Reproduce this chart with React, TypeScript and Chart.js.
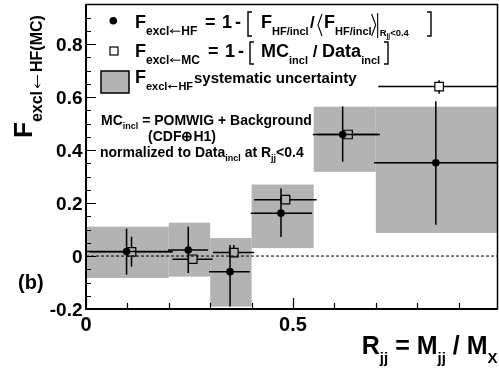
import React, { useEffect, useRef } from 'react';
import { Chart, registerables } from 'chart.js';

Chart.register(...registerables);

// ---- data ----
const binLo = [0, 0.2, 0.3, 0.4, 0.55, 0.7];
const binHi = [0.2, 0.3, 0.4, 0.55, 0.7, 1.0];
const sysLow = [-0.083, -0.078, -0.191, 0.03, 0.318, 0.087];
const sysHigh = [0.111, 0.126, 0.068, 0.27, 0.564, 0.564];

const hfX = [0.098, 0.247, 0.348, 0.471, 0.62, 0.845];
const hfY = [0.017, 0.023, -0.059, 0.162, 0.459, 0.352];
const hfYUp = [0.103, 0.111, 0.042, 0.255, 0.565, 0.585];
const hfYDown = [-0.071, -0.064, -0.191, 0.072, 0.356, 0.118];
const hfXLo = [0, 0.198, 0.297, 0.398, 0.548, 0.696];
const hfXHi = [0.205, 0.295, 0.396, 0.546, 0.705, 1.0];

const mcX = [0.11, 0.258, 0.357, 0.482, 0.633, 0.853];
const mcY = [0.016, -0.012, 0.013, 0.213, 0.459, 0.64];
const mcYUp = [0.073, 0.0, 0.042, 0.225, 0.47, 0.664];
const mcYDown = [-0.04, -0.025, 0.0, 0.2, 0.445, 0.613];
const mcXLo = [0.01, 0.209, 0.307, 0.406, 0.558, 0.706];
const mcXHi = [0.21, 0.306, 0.406, 0.557, 0.71, 1.0];

const xTickLabels = ['0', '0.5'];
const xTickValues = [0, 0.5];
const yTickLabels = ['-0.2', '0', '0.2', '0.4', '0.6', '0.8'];
const yTickValues = [-0.2, 0, 0.2, 0.4, 0.6, 0.8];

const X_MIN = 0, X_MAX = 0.994, Y_MIN = -0.2, Y_MAX = 0.95;

const GRAY = 'rgb(179,179,179)';
const FONT = '"Liberation Sans", Arial, Helvetica, sans-serif';

type Seg = { t?: string; s?: number; dy?: number; x?: number; w?: string; draw?: (ctx: CanvasRenderingContext2D, x: number) => number };

function rich(ctx: CanvasRenderingContext2D, x: number, y: number, segs: Seg[]) {
  let cx = x;
  for (const sg of segs) {
    if (sg.x !== undefined) cx = sg.x;
    if (sg.draw) { cx = sg.draw(ctx, cx); continue; }
    ctx.font = `${sg.w ?? 'bold'} ${sg.s ?? 18}px ${FONT}`;
    ctx.fillText(sg.t ?? '', cx, y + (sg.dy ?? 0));
    cx += ctx.measureText(sg.t ?? '').width;
  }
  return cx;
}

function bracket(top: number, bot: number, dir: number) {
  return (ctx: CanvasRenderingContext2D, x: number) => {
    ctx.save();
    ctx.lineWidth = 1.4;
    ctx.strokeStyle = '#000';
    ctx.beginPath();
    ctx.moveTo(x + 4 * dir, top);
    ctx.lineTo(x, top);
    ctx.lineTo(x, bot);
    ctx.lineTo(x + 4 * dir, bot);
    ctx.stroke();
    ctx.restore();
    return x + 6;
  };
}
function angle(top: number, bot: number, dir: number) {
  return (ctx: CanvasRenderingContext2D, x: number) => {
    ctx.save();
    ctx.lineWidth = 1.1;
    ctx.strokeStyle = '#000';
    ctx.beginPath();
    if (dir > 0) {
      ctx.moveTo(x + 4, top); ctx.lineTo(x, (top + bot) / 2); ctx.lineTo(x + 4, bot);
    } else {
      ctx.moveTo(x, top); ctx.lineTo(x + 4, (top + bot) / 2); ctx.lineTo(x, bot);
    }
    ctx.stroke();
    ctx.restore();
    return x + 6;
  };
}
function vbar(top: number, bot: number) {
  return (ctx: CanvasRenderingContext2D, x: number) => {
    ctx.save();
    ctx.lineWidth = 1.1;
    ctx.beginPath(); ctx.moveTo(x, top); ctx.lineTo(x, bot); ctx.stroke();
    ctx.restore();
    return x + 2;
  };
}
// thin left arrow (the "\u2190" sign)
function larrow(yc: number, len: number, gap: number, lw = 1) {
  return (ctx: CanvasRenderingContext2D, x: number) => {
    ctx.save();
    ctx.lineWidth = lw;
    ctx.strokeStyle = '#000';
    const x0 = x + gap, x1 = x + gap + len;
    const hd = Math.max(2.5, len * 0.28);
    ctx.beginPath();
    ctx.moveTo(x1, yc); ctx.lineTo(x0, yc);
    ctx.moveTo(x0 + hd, yc - hd * 0.7); ctx.lineTo(x0, yc); ctx.lineTo(x0 + hd, yc + hd * 0.7);
    ctx.stroke();
    ctx.restore();
    return x1 + gap;
  };
}

const rootPlugin = {
  id: 'rootStyle',
  beforeDatasetsDraw(chart: any) {
    const { ctx, chartArea: a, scales } = chart;
    const xs = scales.x, ys = scales.y;
    ctx.save();
    ctx.beginPath();
    ctx.rect(a.left, a.top, a.right - a.left, a.bottom - a.top);
    ctx.clip();
    // systematic boxes
    ctx.fillStyle = GRAY;
    for (let i = 0; i < binLo.length; i++) {
      const x0 = xs.getPixelForValue(binLo[i]);
      const x1 = xs.getPixelForValue(binHi[i]);
      const y0 = ys.getPixelForValue(sysHigh[i]);
      const y1 = ys.getPixelForValue(sysLow[i]);
      ctx.fillRect(x0, y0, x1 - x0, y1 - y0);
    }
    // dotted zero line
    const yz = ys.getPixelForValue(0);
    ctx.strokeStyle = '#000';
    ctx.lineWidth = 1;
    ctx.setLineDash([3, 2]);
    ctx.beginPath();
    ctx.moveTo(a.left, yz); ctx.lineTo(a.right, yz);
    ctx.stroke();
    ctx.setLineDash([]);
    // HF error bars
    ctx.lineWidth = 1.5;
    for (let i = 0; i < hfX.length; i++) {
      const px = xs.getPixelForValue(hfX[i]);
      const py = ys.getPixelForValue(hfY[i]);
      ctx.beginPath();
      ctx.moveTo(xs.getPixelForValue(hfXLo[i]), py);
      ctx.lineTo(xs.getPixelForValue(hfXHi[i]), py);
      ctx.moveTo(px, ys.getPixelForValue(hfYUp[i]));
      ctx.lineTo(px, ys.getPixelForValue(hfYDown[i]));
      ctx.stroke();
    }
    // MC error bars (stop at marker edge)
    const g = 4.2;
    for (let i = 0; i < mcX.length; i++) {
      const px = xs.getPixelForValue(mcX[i]);
      const py = ys.getPixelForValue(mcY[i]);
      const l = xs.getPixelForValue(mcXLo[i]);
      const r = xs.getPixelForValue(mcXHi[i]);
      const u = ys.getPixelForValue(mcYUp[i]);
      const d = ys.getPixelForValue(mcYDown[i]);
      ctx.beginPath();
      if (l < px - g) { ctx.moveTo(l, py); ctx.lineTo(px - g, py); }
      if (r > px + g) { ctx.moveTo(px + g, py); ctx.lineTo(r, py); }
      if (u < py - g) { ctx.moveTo(px, u); ctx.lineTo(px, py - g); }
      if (d > py + g) { ctx.moveTo(px, py + g); ctx.lineTo(px, d); }
      ctx.stroke();
    }
    ctx.restore();
  },
  afterDatasetsDraw(chart: any) {
    const { ctx, chartArea: a, scales } = chart;
    const xs = scales.x, ys = scales.y;
    ctx.save();
    ctx.strokeStyle = '#000';
    ctx.fillStyle = '#000';
    // frame
    ctx.lineWidth = 1.5;
    ctx.strokeRect(a.left, a.top, a.right - a.left, a.bottom - a.top);
    ctx.lineWidth = 2;
    ctx.beginPath();
    ctx.moveTo(a.left, a.top); ctx.lineTo(a.left, a.bottom); ctx.lineTo(a.right, a.bottom);
    ctx.stroke();
    // x ticks
    ctx.lineWidth = 1.2;
    ctx.beginPath();
    for (let k = 0; k <= 9; k++) {
      const v = k / 10;
      const px = Math.round(xs.getPixelForValue(v)) + 0.5;
      const len = k % 5 === 0 ? 11 : 6;
      ctx.moveTo(px, a.bottom); ctx.lineTo(px, a.bottom - len);
    }
    // y ticks
    for (let k = 0; k <= 23; k++) {
      const v = -0.2 + k * 0.05;
      if (v > Y_MAX + 1e-6) break;
      const py = Math.round(ys.getPixelForValue(v)) + 0.5;
      const len = k % 4 === 0 ? 10 : 5;
      ctx.moveTo(a.left, py); ctx.lineTo(a.left + len, py);
    }
    ctx.stroke();
    // tick labels
    ctx.font = `bold 20px ${FONT}`;
    ctx.textAlign = 'center';
    ctx.textBaseline = 'alphabetic';
    xTickValues.forEach((v, i) => {
      ctx.fillText(xTickLabels[i], xs.getPixelForValue(v), 330.5);
    });
    ctx.font = `bold 19px ${FONT}`;
    ctx.textAlign = 'right';
    yTickValues.forEach((v, i) => {
      ctx.fillText(yTickLabels[i], 82.5, ys.getPixelForValue(v) + 7);
    });
    ctx.textAlign = 'left';

    // y title (rotated)
    ctx.save();
    ctx.translate(32, 138);
    ctx.rotate(-Math.PI / 2);
    rich(ctx, 0, 0, [
      { t: 'F', s: 26 },
      { t: 'excl', s: 16, dy: 10 },
      { draw: larrow(5.5, 13, 3, 1) },
      { t: 'HF(MC)', s: 16, dy: 10 },
    ]);
    ctx.restore();

    // x title, right aligned
    const xt: Seg[] = [
      { t: 'R', s: 25 }, { t: 'jj', s: 15, dy: 9 }, { t: ' = M', s: 25 },
      { t: 'jj', s: 15, dy: 9 }, { t: ' / M', s: 25 }, { t: 'X', s: 15, dy: 9 },
    ];
    let tw = 0;
    for (const sg of xt) { ctx.font = `bold ${sg.s}px ${FONT}`; tw += ctx.measureText(sg.t!).width; }
    rich(ctx, 497.5 - tw, 354, xt);

    // (b)
    ctx.font = `bold 20px ${FONT}`;
    ctx.fillText('(b)', 18, 289);

    // legend row markers
    ctx.beginPath();
    ctx.arc(113.3, 20.7, 3.8, 0, Math.PI * 2);
    ctx.fill();
    ctx.lineWidth = 1.2;
    ctx.strokeRect(110, 47, 8, 8);
    ctx.fillStyle = GRAY;
    ctx.fillRect(101, 71, 28, 22);
    ctx.lineWidth = 1.5;
    ctx.strokeRect(101, 71, 28, 22);
    ctx.fillStyle = '#000';

    // legend row 1
    rich(ctx, 135, 28, [
      { t: 'F', s: 18 }, { t: 'excl', s: 12, dy: 7 }, { draw: larrow(31.2, 10, 1) }, { t: 'HF', s: 12, dy: 7 },
      { t: '=', s: 18, x: 205 }, { t: '1', s: 18, x: 222 }, { t: '-', s: 18, x: 235 },
      { draw: bracket(12, 36, 1), x: 248 },
      { t: 'F', s: 18, x: 261 }, { t: 'HF/incl', s: 11, dy: 7 },
      { t: '/', s: 17, x: 310 },
      { draw: angle(14, 36, 1), x: 318 },
      { t: 'F', s: 18, x: 324 }, { t: 'HF/incl', s: 11, dy: 7 },
      { draw: angle(14, 36, -1) },
      { draw: vbar(13, 38) },
      { t: 'R', s: 9.5, dy: 8 }, { t: 'jj', s: 6.5, dy: 10 }, { t: '<0.4', s: 9.5, dy: 8 },
      { draw: bracket(12, 36, -1), x: 431 },
    ]);
    // legend row 2
    rich(ctx, 135, 57, [
      { t: 'F', s: 18 }, { t: 'excl', s: 12, dy: 7 }, { draw: larrow(60.2, 10, 1) }, { t: 'MC', s: 12, dy: 7 },
      { t: '=', s: 18, x: 208 }, { t: '1', s: 18, x: 225 }, { t: '-', s: 18, x: 238 },
      { draw: bracket(42, 64, 1), x: 250 },
      { t: 'MC', s: 18, x: 261 }, { t: 'incl', s: 11, dy: 7 },
      { t: ' / ', s: 17 },
      { t: 'Data', s: 18 }, { t: 'incl', s: 11, dy: 7 },
      { draw: bracket(42, 64, -1), x: 388 },
    ]);
    // legend row 3
    rich(ctx, 135, 83, [
      { t: 'F', s: 18 }, { t: 'excl', s: 11, dy: 7 }, { draw: larrow(86.5, 9, 1) }, { t: 'HF', s: 11, dy: 7 },
      { t: 'systematic uncertainty', s: 15, x: 194 },
    ]);

    // MC description text
    rich(ctx, 101, 125, [
      { t: 'MC', s: 14 }, { t: 'incl', s: 9, dy: 4 }, { t: ' = POMWIG + Background', s: 14 },
    ]);
    rich(ctx, 148, 141, [{ t: '(CDF\u2295H1)', s: 14 }]);
    rich(ctx, 100, 157, [
      { t: 'normalized to Data', s: 14 }, { t: 'incl', s: 9, dy: 4 },
      { t: ' at R', s: 14 }, { t: 'jj', s: 9, dy: 4 }, { t: '<0.4', s: 14 },
    ]);
    ctx.restore();
  },
};

export default function App() {
  const ref = useRef<HTMLCanvasElement | null>(null);
  useEffect(() => {
    const canvas = ref.current;
    if (!canvas) return;
    const chart = new Chart(canvas, {
      type: 'scatter',
      data: {
        datasets: [
          {
            label: 'HF',
            data: hfX.map((v, i) => ({ x: v, y: hfY[i] })),
            pointStyle: 'circle',
            pointRadius: 3.8,
            backgroundColor: '#000',
            borderColor: '#000',
            borderWidth: 0,
          },
          {
            label: 'MC',
            data: mcX.map((v, i) => ({ x: v, y: mcY[i] })),
            pointStyle: 'rect',
            pointRadius: 6,
            backgroundColor: 'rgba(0,0,0,0)',
            borderColor: '#000',
            borderWidth: 1.2,
          },
        ],
      },
      options: {
        animation: false,
        responsive: false,
        devicePixelRatio: 1,
        layout: { padding: { left: 86, top: 4.5, right: 1.5, bottom: 61 }, autoPadding: false },
        plugins: { legend: { display: false }, tooltip: { enabled: false } },
        scales: {
          x: { type: 'linear', min: X_MIN, max: X_MAX, display: false },
          y: { type: 'linear', min: Y_MIN, max: Y_MAX, display: false },
        },
      },
      plugins: [rootPlugin],
    } as any);
    return () => chart.destroy();
  }, []);
  return (
    <div style={{ position: 'absolute', left: 0, top: 0, width: 499, height: 370, background: '#fff' }}>
      <canvas ref={ref} width={499} height={370} style={{ width: 499, height: 370, display: 'block' }} />
    </div>
  );
}
